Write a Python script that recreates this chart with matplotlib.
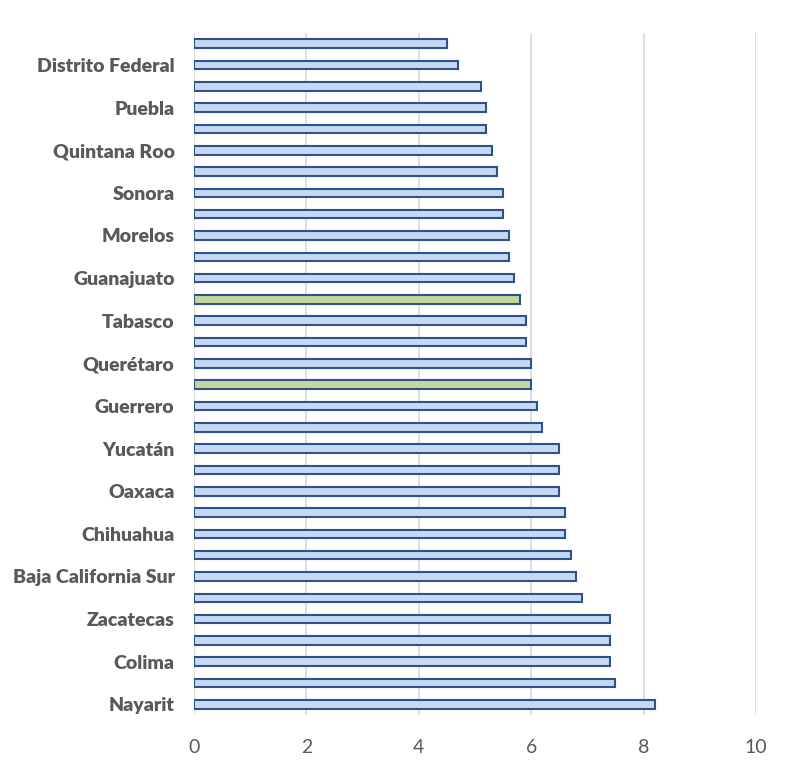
import matplotlib.pyplot as plt

# --------------------------------------------------
# Data (top to bottom as drawn)
# --------------------------------------------------
labels = ["", "Distrito Federal", "", "Puebla", "", "Quintana Roo", "", "Sonora",
          "", "Morelos", "", "Guanajuato", "", "Tabasco", "", "Querétaro",
          "", "Guerrero", "", "Yucatán", "", "Oaxaca", "", "Chihuahua",
          "", "Baja California Sur", "", "Zacatecas", "", "Colima", "", "Nayarit"]
values = [4.5, 4.7, 5.1, 5.2, 5.2, 5.3, 5.4, 5.5,
          5.5, 5.6, 5.6, 5.7, 5.8, 5.9, 5.9, 6.0,
          6.0, 6.1, 6.2, 6.5, 6.5, 6.5, 6.6, 6.6,
          6.7, 6.8, 6.9, 7.4, 7.4, 7.4, 7.5, 8.2]
highlight = [12, 16]  # green bars

plt.rcParams["font.family"] = ["Lato", "DejaVu Sans"]

fig = plt.figure(figsize=(7.87, 7.70), dpi=100)
ax = fig.add_axes([0.2465, 0.0714, 0.7141, 0.8857])

colors = ["#C3D69B" if i in highlight else "#C6D9F1" for i in range(len(values))]
ypos = list(range(len(values)))
ax.barh(ypos, values, height=0.4, color=colors, edgecolor="#2F528F", linewidth=1.5, zorder=3)

ax.set_xlim(0, 10)
ax.set_ylim(len(values) - 0.5, -0.5)
ax.set_xticks([0, 2, 4, 6, 8, 10])
ax.set_yticks(ypos)
ax.set_yticklabels(labels, fontsize=14, fontweight="heavy", color="#595959")
ax.tick_params(axis="x", labelsize=14, colors="#595959", length=0, pad=17)
ax.tick_params(axis="y", length=0, pad=14)

ax.grid(axis="x", color="#D9D9D9", linewidth=1.2, zorder=0)
for s in ax.spines.values():
    s.set_visible(False)

fig.savefig("out.png", dpi=100)
